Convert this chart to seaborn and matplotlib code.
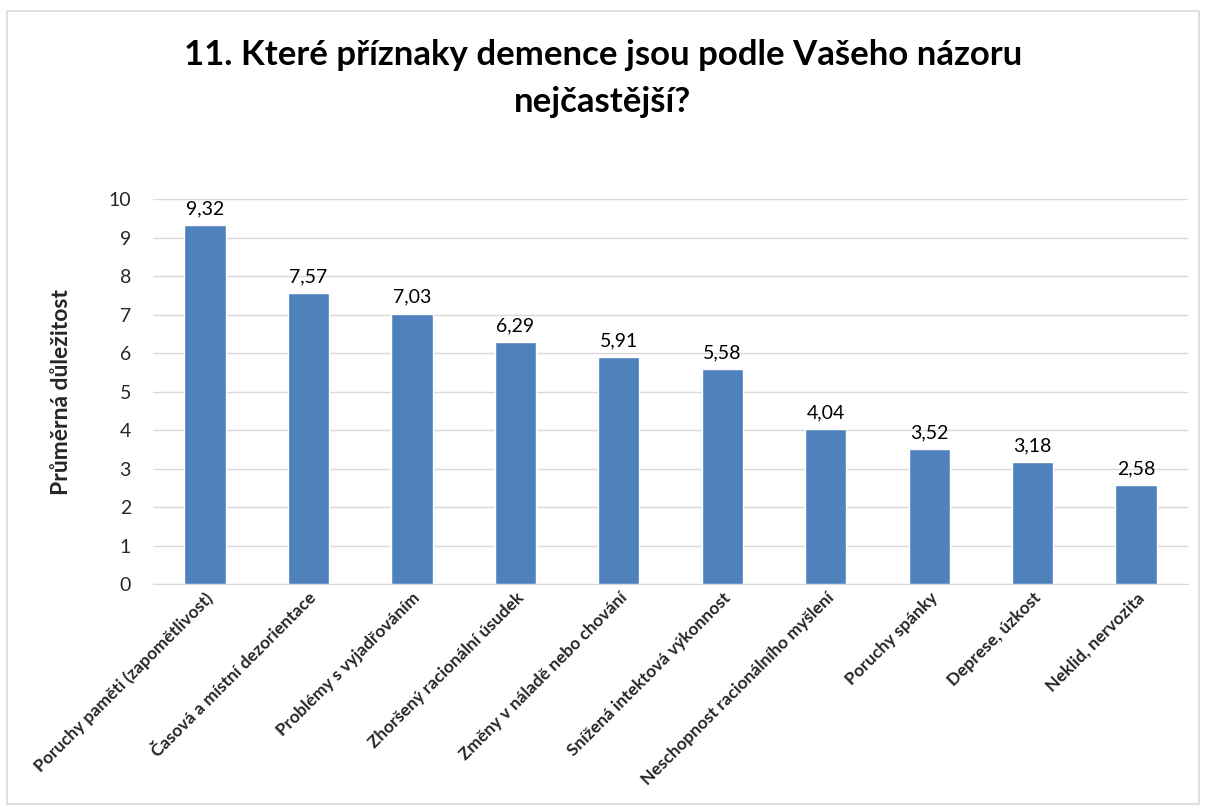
import matplotlib
matplotlib.use("Agg")
import matplotlib.pyplot as plt
import seaborn as sns
import pandas as pd
from matplotlib.patches import Rectangle

# data
symptoms = [
    "Poruchy paměti (zapomětlivost)",
    "Časová a místní dezorientace",
    "Problémy s vyjadřováním",
    "Zhoršený racionální úsudek",
    "Změny v náladě nebo chování",
    "Snížená intektová výkonnost",
    "Neschopnost racionálního myšlení",
    "Poruchy spánky",
    "Deprese, úzkost",
    "Neklid, nervozita",
]
scores = [9.32, 7.57, 7.03, 6.29, 5.91, 5.58, 4.04, 3.52, 3.18, 2.58]
yticks = list(range(0, 11))

df = pd.DataFrame({"symptom": symptoms, "score": scores})

sns.set_style("white")
plt.rcParams["font.family"] = ["Lato", "DejaVu Sans"]

fig = plt.figure(figsize=(12.06, 8.1), dpi=100)
ax = fig.add_axes([0.127, 0.279, 0.858, 0.475])

sns.barplot(data=df, x="symptom", y="score", color="#4F81BD", width=0.4,
            saturation=1, ax=ax, zorder=3)

# value labels
for i, v in enumerate(scores):
    ax.text(i, v + 0.2, f"{v:.2f}".replace(".", ","), ha="center", va="bottom",
            fontsize=14, color="#000000")

ax.set_ylim(0, 10)
ax.set_yticks(yticks)
ax.set_yticklabels([str(t) for t in yticks], fontsize=14)
ax.set_xlim(-0.5, len(symptoms) - 0.5)
ax.grid(axis="y", color="#D9D9D9", linewidth=1, zorder=0)
ax.set_axisbelow(True)
for s in ["top", "right", "left"]:
    ax.spines[s].set_visible(False)
ax.spines["bottom"].set_color("#D9D9D9")
ax.tick_params(axis="y", length=0, pad=16)
ax.tick_params(axis="x", length=0, pad=4)
ax.set_xticks(range(len(symptoms)))
ax.set_xticklabels(symptoms, rotation=45, ha="right", rotation_mode="anchor",
                   fontsize=12.5, fontweight="bold")
ax.set_xlabel("")
ax.set_ylabel("Průměrná důležitost", fontsize=16.5, fontweight="bold", labelpad=26)

fig.text(0.5, 0.903, "11. Které příznaky demence jsou podle Vašeho názoru\nnejčastější?",
         ha="center", va="center", fontsize=25, fontweight="bold", linespacing=1.55,
         color="#000000")

# chart border
fig.patches.append(Rectangle((0.006, 0.008), 0.988, 0.978, transform=fig.transFigure,
                             fill=False, edgecolor="#D9D9D9", linewidth=1.2))

fig.savefig("out.png", dpi=100)
